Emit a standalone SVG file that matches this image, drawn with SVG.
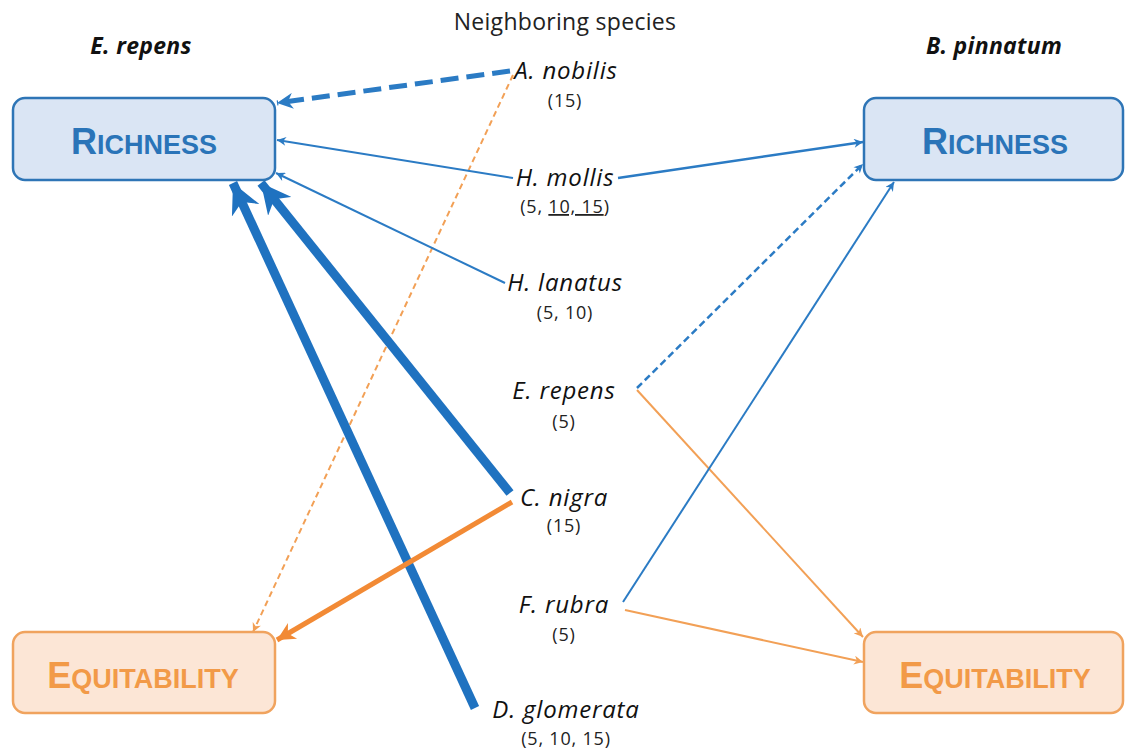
<svg xmlns="http://www.w3.org/2000/svg" width="1125" height="751" viewBox="0 0 1125 751">
<style>
.rbox{fill:#dae5f4;stroke:#2e75b6;stroke-width:2.5}
.ebox{fill:#fce6d6;stroke:#f0a35e;stroke-width:2.5}
.rtxt{font-family:"Liberation Sans",Arial,sans-serif;font-weight:bold;fill:#2a74b8;text-anchor:middle}
.etxt{font-family:"Liberation Sans",Arial,sans-serif;font-weight:bold;fill:#f29a48;text-anchor:middle}
.hdr{font-family:"Open Sans",sans-serif;font-size:23px;font-style:italic;font-weight:bold;fill:#111;text-anchor:middle;letter-spacing:0.3px}
.title{font-family:"Open Sans",sans-serif;font-size:23px;fill:#222;text-anchor:middle;letter-spacing:0.3px}
.sp{font-family:"Open Sans",sans-serif;font-size:24px;font-style:italic;fill:#111;text-anchor:middle;letter-spacing:0.8px}
.yr{font-family:"Open Sans",sans-serif;font-size:18px;fill:#222;text-anchor:middle;letter-spacing:0.8px}
.b{stroke:#2b7bc4;fill:none}
.o{stroke:#f2a056;fill:none}
</style>
<defs>
<marker id="ab" markerUnits="userSpaceOnUse" viewBox="0 0 10 10" refX="10" refY="5" markerWidth="10" markerHeight="9" orient="auto"><path d="M0,0 L10,5 L0,10 L3,5 z" fill="#2b7bc4"/></marker>
<marker id="abm" markerUnits="userSpaceOnUse" viewBox="0 0 10 10" refX="10" refY="5" markerWidth="18" markerHeight="16" orient="auto"><path d="M0,0 L10,5 L0,10 L3,5 z" fill="#2b7bc4"/></marker>
<marker id="abb" markerUnits="userSpaceOnUse" viewBox="0 0 10 10" refX="10" refY="5" markerWidth="30" markerHeight="30" orient="auto"><path d="M0,0 L10,5 L0,10 L3,5 z" fill="#1f72c0"/></marker>
<marker id="ao" markerUnits="userSpaceOnUse" viewBox="0 0 10 10" refX="10" refY="5" markerWidth="10" markerHeight="9" orient="auto"><path d="M0,0 L10,5 L0,10 L3,5 z" fill="#f2a056"/></marker>
<marker id="aom" markerUnits="userSpaceOnUse" viewBox="0 0 10 10" refX="10" refY="5" markerWidth="20" markerHeight="18" orient="auto"><path d="M0,0 L10,5 L0,10 L3,5 z" fill="#f28a35"/></marker>
</defs>
<rect width="1125" height="751" fill="#ffffff"/>

<text class="hdr" x="141" y="54">E. repens</text>
<text class="hdr" x="994" y="54">B. pinnatum</text>
<text class="title" x="565" y="30">Neighboring species</text>

<g id="connectors">
<line class="b" x1="510" y1="71" x2="277" y2="103" stroke-width="5" stroke-dasharray="18,8" marker-end="url(#abm)"/>
<line class="o" x1="513" y1="75" x2="253" y2="632" stroke-width="2" stroke-dasharray="6,4" marker-end="url(#ao)"/>
<line class="b" x1="513" y1="178" x2="277" y2="140" stroke-width="2" marker-end="url(#ab)"/>
<line class="b" x1="618" y1="178" x2="863" y2="142" stroke-width="2.5" marker-end="url(#ab)"/>
<line class="b" x1="505" y1="283" x2="276" y2="173" stroke-width="2" marker-end="url(#ab)"/>
<line x1="510" y1="493" x2="261" y2="183" stroke="#1f72c0" stroke-width="9" marker-end="url(#abb)"/>
<line x1="475" y1="708" x2="233" y2="183" stroke="#1f72c0" stroke-width="9" marker-end="url(#abb)"/>
<line x1="512" y1="502" x2="277" y2="640" stroke="#f28a35" stroke-width="5" marker-end="url(#aom)"/>
<line class="b" x1="637" y1="388" x2="863" y2="164" stroke-width="2.5" stroke-dasharray="7,4" marker-end="url(#ab)"/>
<line class="o" x1="637" y1="390" x2="863" y2="637" stroke-width="2" marker-end="url(#ao)"/>
<line class="b" x1="623" y1="602" x2="894" y2="182" stroke-width="2" marker-end="url(#ab)"/>
<line class="o" x1="625" y1="610" x2="863" y2="662" stroke-width="2" marker-end="url(#ao)"/>
</g>

<g id="richness-left"><rect class="rbox" x="13" y="98" width="262" height="82" rx="12"/><text class="rtxt" x="144" y="154"><tspan font-size="36">R</tspan><tspan font-size="27">ICHNESS</tspan></text></g>
<g id="richness-right"><rect class="rbox" x="864" y="98" width="259" height="82" rx="12"/><text class="rtxt" x="995" y="154"><tspan font-size="36">R</tspan><tspan font-size="27">ICHNESS</tspan></text></g>
<g id="equit-left"><rect class="ebox" x="13" y="632" width="262" height="81" rx="12"/><text class="etxt" x="143" y="688"><tspan font-size="36">E</tspan><tspan font-size="27">QUITABILITY</tspan></text></g>
<g id="equit-right"><rect class="ebox" x="864" y="632" width="259" height="81" rx="12"/><text class="etxt" x="995" y="688"><tspan font-size="36">E</tspan><tspan font-size="27">QUITABILITY</tspan></text></g>

<g id="a-nobilis"><text class="sp" x="566" y="79">A. nobilis</text><text class="yr" x="565" y="107">(15)</text></g>
<g id="h-mollis"><text class="sp" x="565" y="186">H. mollis</text><text class="yr" x="565" y="213">(5, <tspan text-decoration="underline">10, 15</tspan>)</text></g>
<g id="h-lanatus"><text class="sp" x="565" y="291">H. lanatus</text><text class="yr" x="565" y="319">(5, 10)</text></g>
<g id="e-repens"><text class="sp" x="564" y="399">E. repens</text><text class="yr" x="564" y="428">(5)</text></g>
<g id="c-nigra"><text class="sp" x="564" y="506">C. nigra</text><text class="yr" x="564" y="532">(15)</text></g>
<g id="f-rubra"><text class="sp" x="564" y="613">F. rubra</text><text class="yr" x="564" y="641">(5)</text></g>
<g id="d-glomerata"><text class="sp" x="566" y="718">D. glomerata</text><text class="yr" x="566" y="745">(5, 10, 15)</text></g>
</svg>
